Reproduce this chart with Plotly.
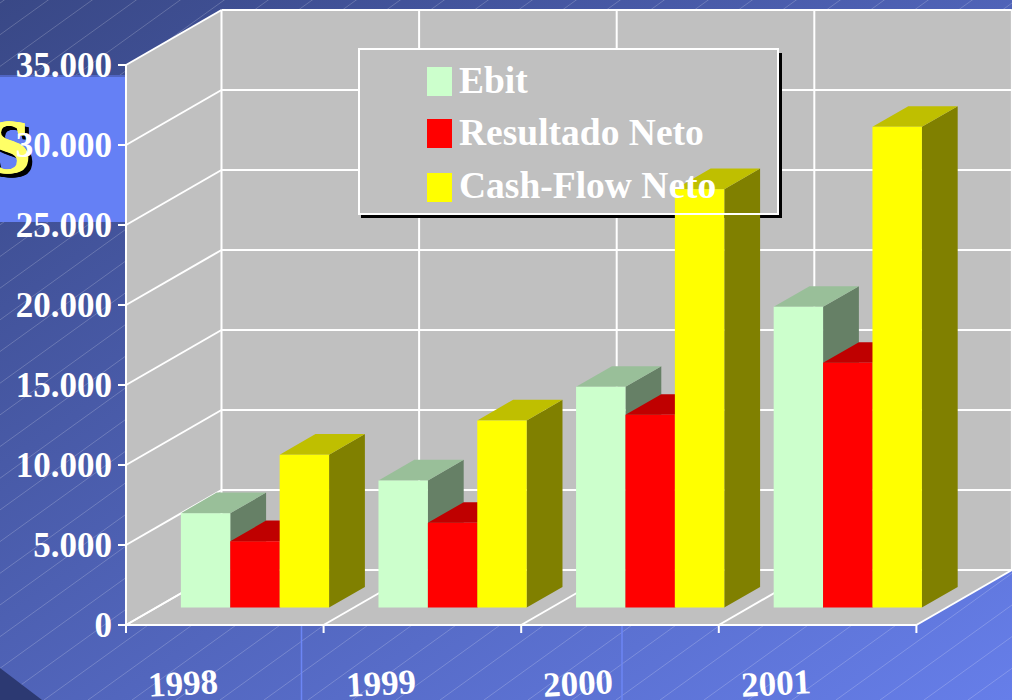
import base64
import plotly.graph_objects as go

years = ["1998", "1999", "2000", "2001"]
ebit = [5900, 7950, 13800, 18800]
resultado = [4150, 5300, 12050, 15300]
cash_flow = [9560, 11700, 26150, 30050]
series_names = ["Ebit", "Resultado Neto", "Cash-Flow Neto"]
y_ticks = [0, 5000, 10000, 15000, 20000, 25000, 30000, 35000]
y_tick_text = ["0", "5.000", "10.000", "15.000", "20.000", "25.000", "30.000", "35.000"]

W, H = 1012, 700
PX_CAT = 197.6
PX_VAL = 0.016
ORIGIN_X, ORIGIN_Y = 126, 625
DX = 95.5 / PX_CAT
DY = 55 / PX_VAL
FRONT = 0.316
DEPTH = 0.375
GAP = 0.125
BW = 0.25
WHITE = "#ffffff"
GREY = "#c0c0c0"
FONT = "Liberation Serif"
front_cols = ["#ccffcc", "#ff0000", "#ffff00"]
top_cols = ["#99bf99", "#bf0000", "#bfbf00"]
side_cols = ["#668066", "#800000", "#808000"]


def pxp(x):
    return x / W


def pyp(y):
    return (H - y) / H


def ux(x):
    return (x - ORIGIN_X) / PX_CAT


def uy(y):
    return (ORIGIN_Y - y) / PX_VAL


# slide background (no text): gradient, hairlines, panel
svg = [f'<svg xmlns="http://www.w3.org/2000/svg" width="{W}" height="{H}" viewBox="0 0 {W} {H}">',
       '<defs><linearGradient id="g" x1="0" y1="0" x2="1" y2="1">'
       '<stop offset="0" stop-color="#394886"/><stop offset="1" stop-color="#667ee9"/>'
       '</linearGradient></defs>',
       f'<rect width="{W}" height="{H}" fill="url(#g)"/>']
for k in range(-40, 60):
    x0 = k * 44
    svg.append(f'<line x1="{x0}" y1="{H}" x2="{x0 + 1000}" y2="{H - 720}" stroke="#ffffff" stroke-opacity="0.2" stroke-width="1"/>')
svg.append('<rect x="0" y="75" width="126" height="147" fill="#6580f5"/>')
svg.append('<line x1="0" y1="76" x2="126" y2="76" stroke="#3c4a90" stroke-width="1"/>')
svg.append('<polygon points="0,668 42,700 0,700" fill="#2c3972"/>')
svg.append('<line x1="301.5" y1="625" x2="301.5" y2="700" stroke="#6c86f5" stroke-width="1.5"/>')
svg.append('<line x1="622" y1="625" x2="622" y2="700" stroke="#6c86f5" stroke-width="1.5"/>')
svg.append('</svg>')
svg_uri = "data:image/svg+xml;base64," + base64.b64encode("".join(svg).encode()).decode()

n = len(years)
top_val = y_ticks[-1] + DY
shapes = []


def seg(x0, y0, x1, y1, color=WHITE, width=2):
    shapes.append(dict(type="line", xref="x", yref="y", x0=x0, y0=y0, x1=x1, y1=y1,
                       line=dict(color=color, width=width), layer="below"))


# walls and floor
shapes.append(dict(type="path", xref="x", yref="y", layer="below", fillcolor=GREY, line=dict(width=0),
                   path=f"M 0 0 L {DX} {DY} L {n + DX} {DY} L {n} 0 Z"))
shapes.append(dict(type="path", xref="x", yref="y", layer="below", fillcolor=GREY, line=dict(width=0),
                   path=f"M 0 0 L 0 {y_ticks[-1]} L {DX} {top_val} L {DX} {DY} Z"))
shapes.append(dict(type="rect", xref="x", yref="y", layer="below", fillcolor=GREY, line=dict(width=0),
                   x0=DX, x1=n + DX, y0=DY, y1=top_val))
for v in y_ticks:
    seg(0, v, DX, v + DY)
    seg(DX, v + DY, n + DX, v + DY)
for c in range(n + 1):
    seg(c, 0, c + DX, DY)
    seg(c + DX, DY, c + DX, top_val)
    seg(c, 0, c, -8 / PX_VAL)
seg(0, 0, n, 0)
seg(0, 0, 0, y_ticks[-1])

# legend panel (below bars), frame and swatches (above bars)
LX0, LX1, LY0, LY1 = 359, 778, 49, 214
shapes.append(dict(type="rect", xref="x", yref="y", layer="below", fillcolor="#000000", line=dict(width=0),
                   x0=ux(361), x1=ux(LX1 + 4), y0=uy(LY0 + 4), y1=uy(LY1 + 4)))
shapes.append(dict(type="rect", xref="x", yref="y", layer="below", fillcolor=GREY, line=dict(width=0),
                   x0=ux(LX0), x1=ux(LX1), y0=uy(LY0), y1=uy(LY1)))
shapes.append(dict(type="rect", xref="paper", yref="paper", layer="above", fillcolor="rgba(0,0,0,0)",
                   line=dict(color=WHITE, width=2),
                   x0=pxp(LX0), x1=pxp(LX1), y0=pyp(LY0), y1=pyp(LY1)))
annotations = []
for name, col, (s0, s1), cy in zip(series_names, front_cols, [(67, 96), (119, 148), (173, 202)], [80, 133, 186]):
    shapes.append(dict(type="rect", xref="paper", yref="paper", layer="above", fillcolor=col, line=dict(width=0),
                       x0=pxp(427), x1=pxp(452), y0=pyp(s0), y1=pyp(s1)))
    annotations.append(dict(text=name, xref="paper", yref="paper", x=pxp(457), y=pyp(cy), xanchor="left",
                            yanchor="middle", showarrow=False,
                            font=dict(family=FONT, size=37.5, color=WHITE, weight="bold")))

# category labels under the floor, off-centre from the ticks as in the 3-D projection
for i, yr in enumerate(years):
    annotations.append(dict(text=yr, xref="x", yref="paper", x=i + 0.289, y=pyp(683), xanchor="center",
                            yanchor="middle", showarrow=False, textangle=-3,
                            font=dict(family=FONT, size=35, color=WHITE, weight="bold")))

fig = go.Figure()

# big clipped title letter behind the axis labels
for off, col in [(4, "#000000"), (0, "#ffff66")]:
    fig.add_trace(go.Scatter(x=[ux(8 + off)], y=[uy(153 + off)], mode="text",
                             text=["S"], textposition="middle center", showlegend=False, hoverinfo="skip",
                             textfont=dict(family=FONT, size=78, color=col, weight=700,
                                           shadow=f"1px 0 0 {col}, -1px 0 0 {col}, 2px 0 0 {col}")))


def poly(kind, values, s):
    xs, ys = [], []
    for i, v in enumerate(values):
        x0 = i + GAP + s * BW + FRONT * DX
        x1 = x0 + BW
        b = FRONT * DY
        ox, oy = DEPTH * DX, DEPTH * DY
        if kind == "front":
            px, py = [x0, x1, x1, x0, x0], [b, b, b + v, b + v, b]
        elif kind == "top":
            px, py = [x0, x1, x1 + ox, x0 + ox, x0], [b + v, b + v, b + v + oy, b + v + oy, b + v]
        else:
            px, py = [x1, x1 + ox, x1 + ox, x1, x1], [b, b + oy, b + v + oy, b + v, b]
        xs += px + [None]
        ys += py + [None]
    return xs, ys


for s, (name, vals) in enumerate(zip(series_names, [ebit, resultado, cash_flow])):
    for kind, col in [("side", side_cols[s]), ("top", top_cols[s]), ("front", front_cols[s])]:
        xs, ys = poly(kind, vals, s)
        fig.add_trace(go.Scatter(x=xs, y=ys, mode="lines", fill="toself", fillcolor=col, name=name,
                                 line=dict(width=0, color=col), showlegend=False, cliponaxis=False,
                                 hovertemplate=name + "<extra></extra>"))

fig.update_layout(
    width=W, height=H, margin=dict(l=0, r=0, t=0, b=0, pad=0),
    paper_bgcolor="rgba(0,0,0,0)", plot_bgcolor="rgba(0,0,0,0)", showlegend=False,
    shapes=shapes, annotations=annotations,
    images=[dict(source=svg_uri, xref="paper", yref="paper", x=0, y=1, sizex=1,
                 sizey=1, sizing="stretch", xanchor="left", yanchor="top", layer="below")],
    xaxis=dict(range=[ux(0), ux(W)], automargin=False, showgrid=False, zeroline=False,
               showline=False, ticks="", showticklabels=False),
    yaxis=dict(range=[uy(H), uy(0)], automargin=False, showgrid=False, zeroline=False,
               anchor="free", position=ORIGIN_X / W, side="right", ticklabelposition="inside",
               showline=False, ticks="inside", ticklen=8, tickwidth=2, tickcolor=WHITE, tickmode="array",
               tickvals=y_ticks, ticktext=y_tick_text, ticklabelstandoff=10,
               tickfont=dict(family=FONT, size=35, color=WHITE, weight="bold")),
)

fig.write_html("out.html", config={"displayModeBar": False},
               post_script="document.body.style.margin='0';document.body.style.overflow='hidden';")
